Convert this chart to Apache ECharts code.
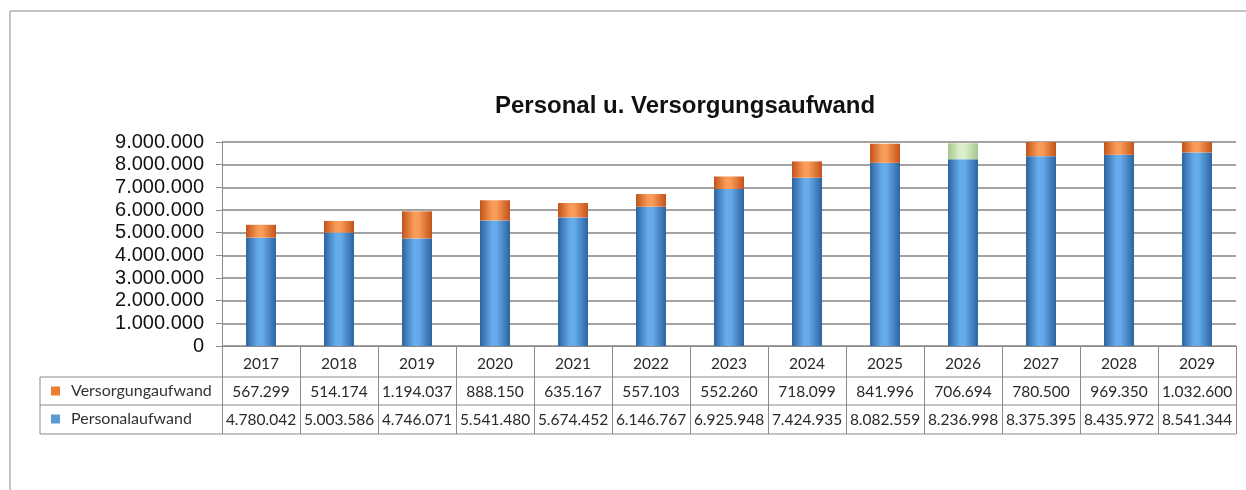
<!doctype html>
<html>
<head>
<meta charset="UTF-8">
<title>Personal u. Versorgungsaufwand</title>
<script src="https://cdn.jsdelivr.net/npm/echarts@6/dist/echarts.min.js"></script>
<style>
	html,body{margin:0;padding:0;background:#fff;}
	#main{width:1246px;height:490px;}
</style>
</head>
<body>
<div id="main"></div>
<script type="text/javascript">
	// Daten
	var jahre = ['2017','2018','2019','2020','2021','2022','2023','2024','2025','2026','2027','2028','2029'];
	var personalaufwand = [4780042,5003586,4746071,5541480,5674452,6146767,6925948,7424935,8082559,8236998,8375395,8435972,8541344];
	var versorgungaufwand = [567299,514174,1194037,888150,635167,557103,552260,718099,841996,706694,780500,969350,1032600];
	var yTicks = [0,1000000,2000000,3000000,4000000,5000000,6000000,7000000,8000000,9000000];

	// Layout (Pixel)
	var gL = 222, gR = 1236, gT = 142, gB = 346;
	var rowY = [377, 405, 434];

	function fmt(v){
		return String(v).replace(/\B(?=(\d{3})+(?!\d))/g, '.');
	}
	function zylinder(a, b){
		return {
			type:'linear', x:0, y:0, x2:1, y2:0,
			colorStops:[{offset:0,color:a},{offset:0.4,color:b},{offset:0.55,color:b},{offset:1,color:a}]
		};
	}
	var blau = zylinder('#2c64a0', '#67abeb');
	var orange = zylinder('#c4521a', '#f99c58');
	var gruen = zylinder('#a6c78b', '#dcefcd');

	// 2026 hervorgehoben (hellgrün)
	var versData = versorgungaufwand.map(function(v, i){
		if (jahre[i] === '2026') return {value:v, itemStyle:{color:gruen}};
		return v;
	});

	var myChart = echarts.init(document.getElementById('main'));
	var option = {
		animation:false,
		title:{
			text:'Personal u. Versorgungsaufwand',
			left:490, top:89,
			textStyle:{fontFamily:'Liberation Sans, Arial', fontSize:24, fontWeight:'bold', color:'#111'}
		},
		legend:{
			orient:'vertical', left:46, top:377, itemGap:10,
			itemWidth:9, itemHeight:9, icon:'rect',
			textStyle:{fontFamily:'Lato', fontSize:16, color:'#333', lineHeight:18, padding:[0,0,0,6]},
			data:[
				{name:'Versorgungaufwand', itemStyle:{color:'#ed7d31'}},
				{name:'Personalaufwand', itemStyle:{color:'#5b9bd5'}}
			]
		},
		grid:{left:gL, right:1246-gR, top:gT, bottom:490-gB},
		xAxis:{
			type:'category',
			data:jahre,
			axisLine:{lineStyle:{color:'#8a8a8a', width:1}},
			axisTick:{show:true, length:rowY[2]-gB, lineStyle:{color:'#8a8a8a'}},
			axisLabel:{
				interval:0, margin:4,
				formatter:function(v, i){
					return '{a|' + v + '}\n{b|' + fmt(versorgungaufwand[i]) + '}\n{b|' + fmt(personalaufwand[i]) + '}';
				},
				rich:{
					a:{fontFamily:'Lato', fontSize:15.5, color:'#2a2a2a', lineHeight:28},
					b:{fontFamily:'Lato', fontSize:15.5, color:'#2a2a2a', lineHeight:28}
				}
			}
		},
		yAxis:{
			type:'value',
			min:yTicks[0], max:yTicks[yTicks.length-1], interval:yTicks[1]-yTicks[0],
			axisLine:{show:true, lineStyle:{color:'#8a8a8a'}},
			axisTick:{show:true, length:6, lineStyle:{color:'#8a8a8a'}},
			axisLabel:{
				margin:18, color:'#111',
				fontFamily:'Liberation Sans, Arial', fontSize:20,
				formatter:function(v){ return fmt(v); }
			},
			splitLine:{lineStyle:{color:'#a3a3a3', width:2}}
		},
		series:[
			{
				name:'Personalaufwand', type:'bar', stack:'gesamt',
				barWidth:30, clip:true,
				itemStyle:{color:blau},
				data:personalaufwand
			},
			{
				name:'Versorgungaufwand', type:'bar', stack:'gesamt',
				barWidth:30, clip:true,
				itemStyle:{color:orange},
				data:versData
			}
		],
		graphic:[
			// Rahmen links und oben
			{type:'line', shape:{x1:10,y1:11,x2:10,y2:490}, style:{stroke:'#8a8a8a', lineWidth:1}},
			{type:'line', shape:{x1:10,y1:11,x2:1246,y2:11}, style:{stroke:'#8a8a8a', lineWidth:1}},
			// Tabellenlinien
			{type:'line', shape:{x1:40,y1:rowY[0],x2:gR,y2:rowY[0]}, style:{stroke:'#8a8a8a', lineWidth:1}},
			{type:'line', shape:{x1:40,y1:rowY[1],x2:gR,y2:rowY[1]}, style:{stroke:'#8a8a8a', lineWidth:1}},
			{type:'line', shape:{x1:40,y1:rowY[2],x2:gR,y2:rowY[2]}, style:{stroke:'#8a8a8a', lineWidth:1}},
			{type:'line', shape:{x1:40,y1:rowY[0],x2:40,y2:rowY[2]}, style:{stroke:'#8a8a8a', lineWidth:1}}
		]
	};
	myChart.setOption(option);
</script>
</body>
</html>
